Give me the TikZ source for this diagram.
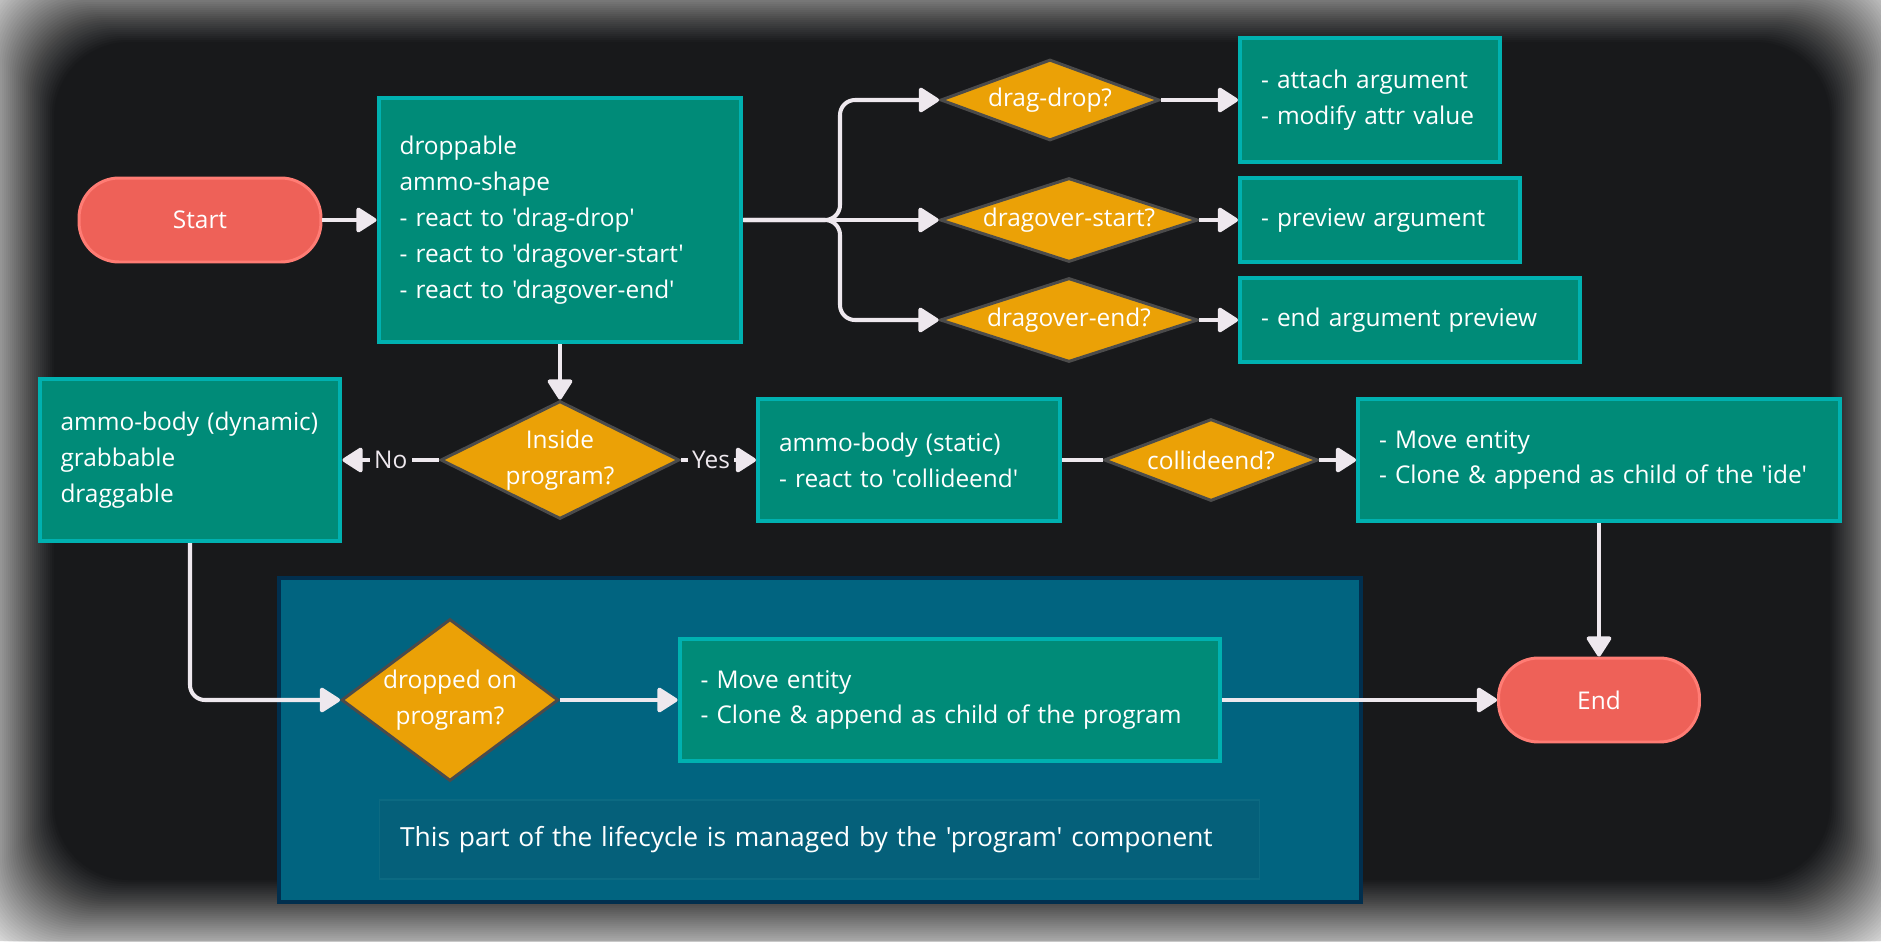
\documentclass[tikz,border=0pt]{standalone}
\usepackage{fontspec}
\setmainfont{Open Sans}[Ligatures=TeXOff]
\usetikzlibrary{arrows.meta, shapes.geometric}

\definecolor{bgdark}{HTML}{18191B}
\definecolor{bgedge}{HTML}{DCDCDC}
\definecolor{boxfill}{HTML}{008B78}
\definecolor{boxline}{HTML}{00B1B0}
\definecolor{diafill}{HTML}{EBA106}
\definecolor{dialine}{HTML}{4B4B4B}
\definecolor{pillfill}{HTML}{EE6158}
\definecolor{pillline}{HTML}{FF7C74}
\definecolor{flowc}{HTML}{EEE8EE}
\definecolor{zonefill}{HTML}{016480}
\definecolor{zoneline}{HTML}{012F4E}
\definecolor{notefill}{HTML}{05607A}
\definecolor{noteline}{HTML}{0C6A82}

\begin{document}
\begin{tikzpicture}[
    x=0.02cm, y=-0.02cm,
    font=\fontsize{13.9}{20.4}\selectfont,
    pill/.style={rectangle, rounded corners=0.8cm, draw=pillline, fill=pillfill, line width=1.7pt, text=white, minimum height=1.68cm},
    proc/.style={rectangle, draw=boxline, fill=boxfill, line width=2.3pt, text=white, align=left, inner xsep=0.42cm, inner ysep=0pt},
    cond/.style={diamond, draw=dialine, fill=diafill, line width=1.7pt, text=white, align=center, inner sep=0pt},
    flow/.style={-{Triangle[length=0.44cm, width=0.54cm, round]}, draw=flowc, line width=2.3pt},
    link/.style={draw=flowc, line width=2.3pt},
    lbl/.style={fill=bgdark, text=flowc, inner xsep=2.5pt, inner ysep=1pt}
  ]
    % backdrop with soft edge
    \useasboundingbox (0,0) rectangle (1881,941);
    \fill[bgedge] (0,0) rectangle (1881,941);
    \foreach \k in {1,...,41} {
      \pgfmathsetmacro{\t}{-42+2*\k}
      \pgfmathsetmacro{\op}{1/(42-\k)}
      \fill[bgdark, opacity=\op, rounded corners=1.5cm]
        ({14+\t},{2+\t}) rectangle ({1870-\t},{920-\t});
    }

    % program part
    \node[rectangle, draw=zoneline, fill=zonefill, line width=2.3pt,
      minimum width=21.64cm, minimum height=6.48cm] (zone) at (820,740) {};
    \node[rectangle, draw=noteline, fill=notefill, line width=0.6pt, text=white,
      font=\fontsize{15}{20.4}\selectfont,
      minimum width=17.62cm, minimum height=1.58cm, text width=16.78cm,
      align=left, inner xsep=0.42cm] (note) at (819.5,839.5)
      {This part of the lifecycle is managed by the 'program' component};

    % nodes
    \node[pill, minimum width=4.84cm] (start) at (200,220) {Start};
    \node[proc, minimum width=7.26cm, minimum height=4.88cm, text width=6.42cm] (shape) at (560,220)
      {droppable\\ammo-shape\\- react to 'drag-drop'\\- react to 'dragover-start'\\- react to 'dragover-end'};

    \node[cond, minimum width=4.38cm, minimum height=1.62cm, aspect=2.7] (qdrop) at (1050,100) {drag-drop?};
    \node[cond, minimum width=5.16cm, minimum height=1.68cm, aspect=3.07] (qover) at (1069,220) {dragover-start?};
    \node[cond, minimum width=5.16cm, minimum height=1.68cm, aspect=3.07] (qend) at (1069,320) {dragover-end?};

    \node[proc, minimum width=5.2cm, minimum height=2.48cm, text width=4.36cm] (ddact) at (1370,100)
      {- attach argument\\- modify attr value};
    \node[proc, minimum width=5.6cm, minimum height=1.68cm, text width=4.76cm] (dsact) at (1380,220)
      {- preview argument};
    \node[proc, minimum width=6.8cm, minimum height=1.68cm, text width=5.96cm] (deact) at (1410,320)
      {- end argument preview};

    \node[cond, minimum width=4.78cm, minimum height=2.36cm, aspect=2.03] (qin) at (560,460) {Inside\\program?};
    \node[proc, minimum width=6.02cm, minimum height=3.24cm, text width=5.18cm] (dyn) at (190,460)
      {ammo-body (dynamic)\\grabbable\\draggable};
    \node[proc, minimum width=6.04cm, minimum height=2.44cm, text width=5.2cm] (stat) at (909,460)
      {ammo-body (static)\\- react to 'collideend'};
    \node[cond, minimum width=4.28cm, minimum height=1.64cm, aspect=2.6] (qcoll) at (1211,460) {collideend?};
    \node[proc, minimum width=9.64cm, minimum height=2.44cm, text width=8.8cm] (ide) at (1599,460)
      {- Move entity\\- Clone \& append as child of the 'ide'};

    \node[cond, minimum width=4.34cm, minimum height=3.24cm, aspect=1.34] (qprog) at (450,700) {dropped on\\program?};
    \node[proc, minimum width=10.82cm, minimum height=2.44cm, text width=9.98cm] (prog) at (950,700)
      {- Move entity\\- Clone \& append as child of the program};
    \node[pill, minimum width=4.02cm] (endn) at (1599,700) {End};

    % connectors
    \coordinate (fork) at (840,220);
    \draw[flow] (start.east) -- (shape.west);
    \draw[flow] (shape.east) -- (qover.west);
    \draw[flow, rounded corners=0.3cm] (shape.east) -- (fork) |- (qdrop.west);
    \draw[flow, rounded corners=0.3cm] (shape.east) -- (fork) |- (qend.west);
    \draw[flow] (qdrop.east) -- (ddact.west);
    \draw[flow] (qover.east) -- (dsact.west);
    \draw[flow] (qend.east) -- (deact.west);

    \draw[flow] (shape.south) -- (qin.north);
    \draw[flow] (qin.west) -- node[lbl] (no) {No} (dyn.east);
    \draw[flow] (qin.east) -- node[lbl, pos=0.4] (yes) {Yes} (stat.west);
    \draw[link] (stat.east) -- (qcoll.west);
    \draw[flow] (qcoll.east) -- (ide.west);
    \draw[flow] (ide.south) -- (endn.north);

    \draw[flow, rounded corners=0.3cm] (dyn.south) |- (qprog.west);
    \draw[flow] (qprog.east) -- (prog.west);
    \draw[flow] (prog.east) -- (endn.west);
\end{tikzpicture}
\end{document}
